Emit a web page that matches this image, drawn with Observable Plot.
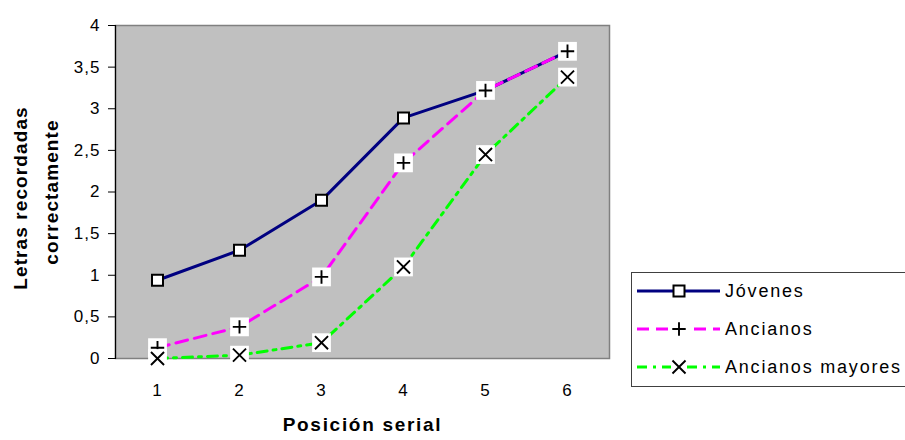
<!DOCTYPE html>
<html>
<head>
<meta charset="utf-8">
<script src="https://cdn.jsdelivr.net/npm/d3@7"></script>
<script src="https://cdn.jsdelivr.net/npm/@observablehq/plot@0.6"></script>
<style>
  body { margin: 0; background: white; }
  #wrap { position: relative; width: 905px; height: 440px; overflow: hidden; font-family: "Liberation Sans", Arial, sans-serif; }
  #legend { position: absolute; left: 631px; top: 272px; width: 290px; height: 115px; border: 1px solid #404040; background: white; box-sizing: border-box; }
</style>
</head>
<body>
<div id="wrap"><div id="chart"></div><div id="legend"></div></div>
<script>
const categories = [1, 2, 3, 4, 5, 6];
const jovenes = [0.94, 1.30, 1.90, 2.89, 3.22, 3.69];
const ancianos = [0.13, 0.38, 0.98, 2.35, 3.22, 3.69];
const mayores = [0.00, 0.04, 0.19, 1.10, 2.45, 3.38];
const yTicks = [0, 0.5, 1, 1.5, 2, 2.5, 3, 3.5, 4];
const seriesNames = ["Jóvenes", "Ancianos", "Ancianos mayores"];
const xTitle = "Posición serial";
const yTitle = ["Letras recordadas", "correctamente"];

const rows = (vals) => categories.map((c, i) => ({ pos: c, value: vals[i] }));
const dJ = rows(jovenes), dA = rows(ancianos), dM = rows(mayores);

const fmt = (d) => String(d).replace(".", ",");
const PLUS_R = 4.4, TIMES_R = 6.0;

const chart = Plot.plot({
  width: 905,
  height: 440,
  marginLeft: 115,
  marginRight: 296,
  marginTop: 25,
  marginBottom: 82,
  style: { fontFamily: "Liberation Sans, Arial, sans-serif", fontSize: "17px", color: "black", background: "white" },
  x: { type: "point", domain: categories, padding: 0.5, label: null },
  y: { domain: [0, 4], label: null },
  marks: [
    Plot.frame({ fill: "#c0c0c0", stroke: "#808080", strokeWidth: 1.5 }),
    Plot.axisX({ tickSize: 0, tickPadding: 25, label: null, fontSize: 17 }),
    Plot.axisY({ ticks: yTicks, tickFormat: fmt, tickSize: 7, tickPadding: 8, label: null, fontSize: 17, strokeWidth: 1 }),
    Plot.frame({ anchor: "left", stroke: "black", strokeWidth: 1.2 }),
    // Jóvenes
    Plot.line(dJ, { x: "pos", y: "value", stroke: "#000080", strokeWidth: 3 }),
    Plot.dot(dJ, { x: "pos", y: "value", symbol: "square", r: 6.2, fill: "white", stroke: "black", strokeWidth: 2 }),
    // Ancianos
    Plot.line(dA, { x: "pos", y: "value", stroke: "#ff00ff", strokeWidth: 3, strokeDasharray: "12,7" }),
    Plot.dot(dA, { x: "pos", y: "value", symbol: "square", r: 10.6, fill: "white", stroke: null }),
    Plot.dot(dA, { x: "pos", y: "value", symbol: "plus", r: PLUS_R, stroke: "black", strokeWidth: 1.9 }),
    // Ancianos mayores
    Plot.line(dM, { x: "pos", y: "value", stroke: "#00ff00", strokeWidth: 3, strokeDasharray: "10,6,3,6" }),
    Plot.dot(dM, { x: "pos", y: "value", symbol: "square", r: 10.6, fill: "white", stroke: null }),
    Plot.dot(dM, { x: "pos", y: "value", symbol: "times", r: TIMES_R, stroke: "black", strokeWidth: 1.9 }),
    // titles
    Plot.text([xTitle], { text: d => d, frameAnchor: "bottom", dy: 72, fontWeight: "bold", fontSize: 19 }),
    Plot.text([yTitle[0]], { text: d => d, frameAnchor: "left", textAnchor: "middle", rotate: -90, dx: -95, dy: 6, fontWeight: "bold", fontSize: 19 }),
    Plot.text([yTitle[1]], { text: d => d, frameAnchor: "left", textAnchor: "middle", rotate: -90, dx: -64, dy: 0, fontWeight: "bold", fontSize: 19 })
  ]
});
document.getElementById("chart").appendChild(chart);

// letter spacing to mimic the wide rendering of the original
d3.select(chart).selectAll("g[aria-label='x-axis tick label'] text, g[aria-label='y-axis tick label'] text").style("letter-spacing", "1px");
d3.select(chart).selectAll("g[aria-label='text'] text").each(function () {
  const t = this.textContent;
  if (t === xTitle) d3.select(this).style("letter-spacing", "1.7px");
  else d3.select(this).style("letter-spacing", "1.1px");
});

// legend
const lg = d3.select("#legend").append("svg").attr("width", 290).attr("height", 115)
  .style("position", "absolute").style("left", "-1px").style("top", "-1px");
const styles = [
  { color: "#000080", dash: null, marker: "square" },
  { color: "#ff00ff", dash: "12,7", marker: "plus" },
  { color: "#00ff00", dash: "10,6,3,6", marker: "times" }
];
seriesNames.forEach((name, i) => {
  const y = 19 + i * 38;
  const s = styles[i];
  lg.append("line").attr("x1", 6).attr("x2", 89).attr("y1", y).attr("y2", y)
    .attr("stroke", s.color).attr("stroke-width", 3).attr("stroke-dasharray", s.dash);
  const mx = 48;
  if (s.marker === "square") {
    lg.append("rect").attr("x", mx - 5.5).attr("y", y - 5.5).attr("width", 11).attr("height", 11)
      .attr("fill", "white").attr("stroke", "black").attr("stroke-width", 2);
  } else {
    lg.append("rect").attr("x", mx - 8).attr("y", y - 8).attr("width", 16).attr("height", 16).attr("fill", "white");
    const rr = s.marker === "plus" ? PLUS_R : TIMES_R;
    const sym = d3.symbol(s.marker === "plus" ? d3.symbolPlus : d3.symbolTimes, Math.PI * rr * rr);
    lg.append("path").attr("d", sym()).attr("transform", `translate(${mx},${y})`)
      .attr("fill", "none").attr("stroke", "black").attr("stroke-width", 1.9);
  }
  lg.append("text").attr("x", 94).attr("y", y).attr("dy", "0.35em")
    .attr("font-family", "Liberation Sans, Arial, sans-serif").attr("font-size", 18)
    .style("letter-spacing", "1.8px").text(name);
});
</script>
</body>
</html>
